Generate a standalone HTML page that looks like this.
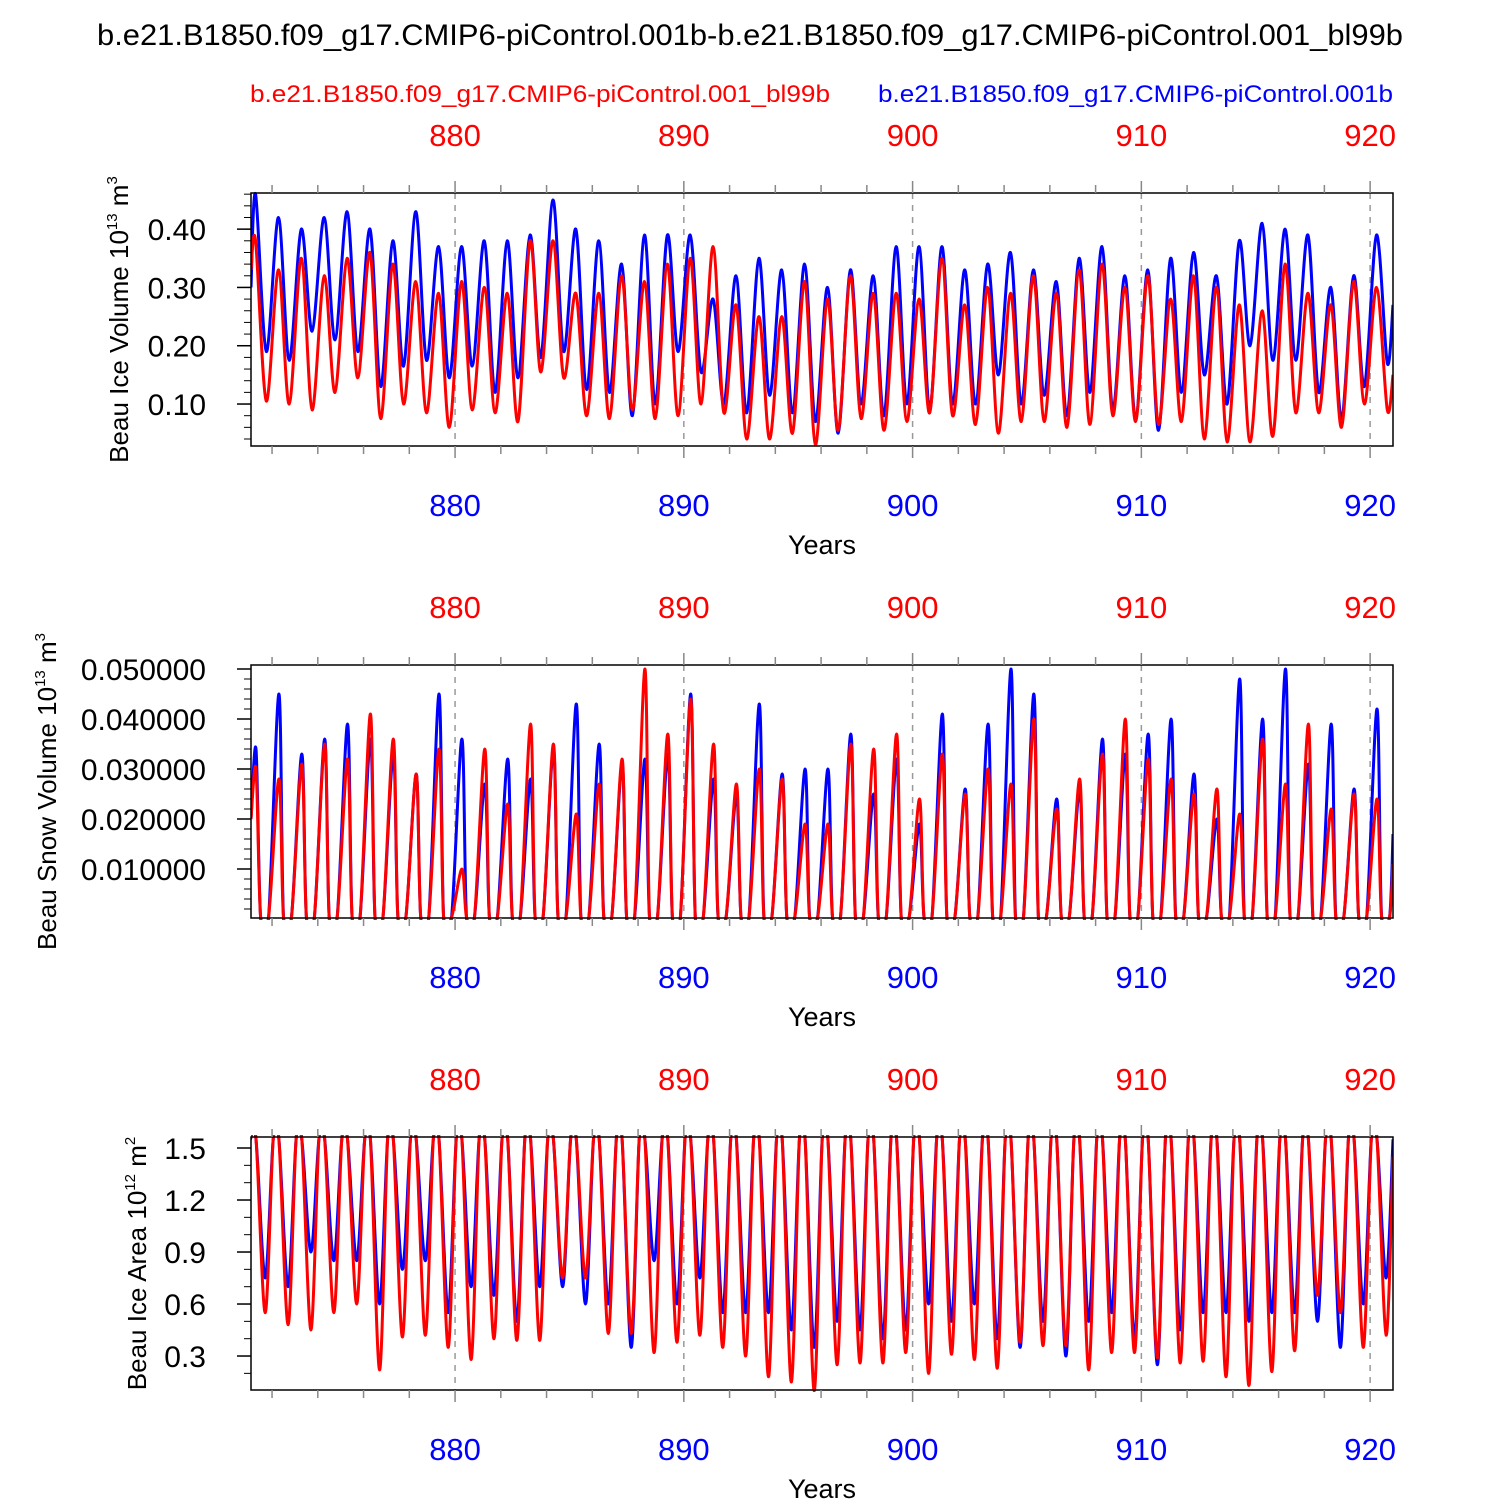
<!DOCTYPE html>
<html><head><meta charset="utf-8"><style>
html,body{margin:0;padding:0;background:#fff;}
svg text{font-family:"Liberation Sans",Arial,sans-serif;}
</style></head><body>
<svg id="chart" width="1500" height="1500" xmlns="http://www.w3.org/2000/svg">
<rect width="1500" height="1500" fill="#fff"/>
<text x="750" y="45" font-size="30" text-anchor="middle" textLength="1306" lengthAdjust="spacingAndGlyphs">b.e21.B1850.f09_g17.CMIP6-piControl.001b-b.e21.B1850.f09_g17.CMIP6-piControl.001_bl99b</text>
<text x="250" y="102" font-size="24" fill="#f00" textLength="580" lengthAdjust="spacingAndGlyphs">b.e21.B1850.f09_g17.CMIP6-piControl.001_bl99b</text>
<text x="878" y="102" font-size="24" fill="#00f" textLength="515" lengthAdjust="spacingAndGlyphs">b.e21.B1850.f09_g17.CMIP6-piControl.001b</text>
</svg>
<script>
const years=[871,872,873,874,875,876,877,878,879,880,881,882,883,884,885,886,887,888,889,890,891,892,893,894,895,896,897,898,899,900,901,902,903,904,905,906,907,908,909,910,911,912,913,914,915,916,917,918,919,920];
const xTicks=[880,890,900,910,920];
// Ice volume
const volRedPeak=[0.38,0.33,0.35,0.32,0.35,0.36,0.34,0.31,0.29,0.31,0.30,0.29,0.38,0.38,0.29,0.29,0.32,0.31,0.34,0.35,0.37,0.27,0.25,0.25,0.31,0.28,0.32,0.29,0.29,0.28,0.35,0.27,0.30,0.29,0.32,0.29,0.33,0.34,0.30,0.32,0.28,0.32,0.30,0.27,0.26,0.34,0.29,0.27,0.31,0.30];
const volRedTrough=[0.105,0.10,0.09,0.12,0.145,0.075,0.10,0.085,0.06,0.09,0.085,0.07,0.155,0.145,0.08,0.075,0.09,0.075,0.08,0.10,0.085,0.04,0.04,0.05,0.03,0.055,0.075,0.055,0.07,0.085,0.08,0.065,0.05,0.07,0.07,0.06,0.065,0.08,0.07,0.065,0.07,0.04,0.035,0.035,0.045,0.085,0.085,0.06,0.10,0.09];
const volBluePeak=[0.46,0.42,0.40,0.42,0.43,0.40,0.38,0.43,0.37,0.37,0.38,0.38,0.39,0.45,0.40,0.38,0.34,0.39,0.39,0.39,0.28,0.32,0.35,0.33,0.34,0.30,0.33,0.32,0.37,0.37,0.37,0.33,0.34,0.36,0.33,0.31,0.35,0.37,0.32,0.33,0.35,0.36,0.32,0.38,0.41,0.40,0.39,0.30,0.32,0.39];
const volBlueTrough=[0.19,0.175,0.225,0.21,0.19,0.13,0.165,0.175,0.145,0.165,0.12,0.145,0.18,0.19,0.125,0.12,0.08,0.10,0.19,0.155,0.10,0.085,0.115,0.085,0.07,0.05,0.10,0.08,0.10,0.09,0.10,0.10,0.15,0.10,0.115,0.08,0.12,0.09,0.075,0.055,0.12,0.15,0.10,0.20,0.175,0.175,0.12,0.075,0.13,0.17];
const volStart=[0.33,0.30], volEnd=[0.15,0.27];
const volTicks=[0.10,0.20,0.30,0.40], volTickLabels=["0.10","0.20","0.30","0.40"];
// Snow volume
const snowRedPeak=[0.030,0.028,0.031,0.035,0.032,0.041,0.036,0.029,0.034,0.010,0.034,0.023,0.039,0.035,0.021,0.027,0.032,0.050,0.037,0.044,0.035,0.027,0.030,0.028,0.019,0.019,0.035,0.034,0.037,0.024,0.033,0.025,0.030,0.027,0.040,0.022,0.028,0.033,0.040,0.032,0.028,0.025,0.026,0.021,0.036,0.027,0.039,0.022,0.025,0.024];
const snowBluePeak=[0.034,0.045,0.033,0.036,0.039,0.036,0.033,0.029,0.045,0.036,0.027,0.032,0.028,0.034,0.043,0.035,0.031,0.032,0.033,0.045,0.028,0.025,0.043,0.029,0.030,0.030,0.037,0.025,0.032,0.019,0.041,0.026,0.039,0.050,0.045,0.024,0.026,0.036,0.033,0.037,0.040,0.029,0.020,0.048,0.040,0.050,0.031,0.039,0.026,0.042];
const snowStart=[0.020,0.020], snowEnd=[0.011,0.017];
const snowTicks=[0.01,0.02,0.03,0.04,0.05], snowTickLabels=["0.010000","0.020000","0.030000","0.040000","0.050000"];
// Ice area
const areaRedTrough=[0.55,0.48,0.45,0.55,0.60,0.22,0.41,0.42,0.35,0.28,0.40,0.39,0.39,0.75,0.75,0.43,0.43,0.32,0.38,0.42,0.35,0.30,0.18,0.15,0.10,0.25,0.26,0.26,0.32,0.20,0.31,0.28,0.23,0.38,0.36,0.36,0.22,0.32,0.32,0.29,0.26,0.27,0.18,0.13,0.21,0.33,0.65,0.55,0.35,0.42];
const areaBlueTrough=[0.75,0.70,0.90,0.85,0.85,0.60,0.80,0.85,0.55,0.70,0.65,0.50,0.70,0.70,0.60,0.60,0.35,0.85,0.60,0.75,0.55,0.55,0.55,0.45,0.35,0.50,0.45,0.40,0.45,0.60,0.50,0.60,0.40,0.35,0.50,0.30,0.50,0.55,0.40,0.25,0.45,0.55,0.55,0.50,0.55,0.55,0.50,0.35,0.60,0.75];
const areaPeak=1.55;
const areaStart=[1.55,1.55], areaEnd=[1.45,1.55];
const areaTicks=[0.3,0.6,0.9,1.2,1.5], areaTickLabels=["0.3","0.6","0.9","1.2","1.5"];

const svg=document.getElementById('chart');
const NS='http://www.w3.org/2000/svg';
function mk(tag,attrs,parent){const e=document.createElementNS(NS,tag);for(const k in attrs)e.setAttribute(k,attrs[k]);(parent||svg).appendChild(e);return e;}
const X0=251,X1=1393,XMIN=871.08,XMAX=921.0;
function xs(v){return X0+(v-XMIN)/(XMAX-XMIN)*(X1-X0);}
function smoothPath(P){
  let d='M'+P[0][0].toFixed(1)+','+P[0][1].toFixed(1);
  for(let i=0;i<P.length-1;i++){
    const p0=P[i-1]||P[i],p1=P[i],p2=P[i+1],p3=P[i+2]||P[i+1];
    const t=0.16;
    const c1=[p1[0]+(p2[0]-p0[0])*t,p1[1]+(p2[1]-p0[1])*t];
    const c2=[p2[0]-(p3[0]-p1[0])*t,p2[1]-(p3[1]-p1[1])*t];
    d+=`C${c1[0].toFixed(1)},${c1[1].toFixed(1)} ${c2[0].toFixed(1)},${c2[1].toFixed(1)} ${p2[0].toFixed(1)},${p2[1].toFixed(1)}`;
  }
  return d;
}
let clipId=0;
function panel(name,top,bottom,ymin,ymax,ticks,labels,minorStep,ylabelMain,ylabelExp,unit,ylabelX,series){
  const ys=v=>bottom-(v-ymin)/(ymax-ymin)*(bottom-top);
  const g=mk('g',{});
  
  
  const cid='clip'+(clipId++);
  const cp=mk('clipPath',{id:cid},g);
  mk('rect',{x:X0,y:top-2,width:X1-X0,height:bottom-top+4},cp);
  xTicks.forEach(t=>{const l=mk('line',{x1:xs(t),x2:xs(t),y1:top,y2:bottom,stroke:'#999','stroke-width':1.5,'stroke-dasharray':'6,6'},g);
    });
  series.forEach(s=>{
    const pts=s.pts.map(q=>[xs(q[0]),ys(q[1])]);
    const p=mk('path',{d:smoothPath(pts),fill:'none',stroke:s.color,'stroke-width':3,'stroke-linejoin':'round','clip-path':`url(#${cid})`},g);
    
    
  });
  const fr=mk('rect',{x:X0,y:top,width:X1-X0,height:bottom-top,fill:'none',stroke:'#000','stroke-width':1.5},g);
  
  for(let yr=872;yr<=920;yr+=2){
    const major=yr%10===0,len=major?12:8,x=xs(yr);
    mk('line',{x1:x,x2:x,y1:top,y2:top-len,stroke:'#888','stroke-width':1.5},g);
    mk('line',{x1:x,x2:x,y1:bottom,y2:bottom+len,stroke:'#888','stroke-width':1.5},g);
  }
  xTicks.forEach(t=>{
    const a=mk('text',{x:xs(t),y:top-47,'font-size':31,fill:'#f00','text-anchor':'middle'},g);a.textContent=t;
    
    const b=mk('text',{x:xs(t),y:bottom+70,'font-size':31,fill:'#00f','text-anchor':'middle'},g);b.textContent=t;
    
  });
  const yt=mk('text',{x:(X0+X1)/2,y:bottom+108,'font-size':27,'text-anchor':'middle'},g);yt.textContent='Years';
  
  for(let k=Math.ceil(ymin/minorStep-1e-6);k*minorStep<=ymax;k++){
    const y=ys(k*minorStep);mk('line',{x1:X0,x2:X0-7,y1:y,y2:y,stroke:'#000','stroke-width':1},g);
  }
  ticks.forEach((t,i)=>{const y=ys(t);
    mk('line',{x1:X0,x2:X0-14,y1:y,y2:y,stroke:'#000','stroke-width':1.5},g);
    const tx=mk('text',{x:206,y:y+11,'font-size':30,'text-anchor':'end'},g);tx.textContent=labels[i];
    
  });
  const cy=(top+bottom)/2;
  const yl=mk('text',{transform:`translate(${ylabelX},${cy}) rotate(-90)`,'font-size':26,'text-anchor':'middle'},g);
  
  yl.innerHTML=`${ylabelMain} 10<tspan font-size="15" dy="-11">${ylabelExp}</tspan><tspan dy="11"> m</tspan><tspan font-size="15" dy="-11">${unit}</tspan>`;
}

function buildVol(peak,trough,start,end){const p=[[871.08,start]];years.forEach((y,i)=>{p.push([y+0.28,peak[i]]);p.push([y+0.75,trough[i]]);});p.push([921.0,end]);return p;}
function buildSnow(peak,start,end){const p=[[871.08,start]];years.forEach((y,i)=>{p.push([y+0.3,peak[i]]);p.push([y+0.5,0.0004]);p.push([y+0.85,0.0004]);});p.push([921.0,end]);return p;}
function buildArea(trough,start,end){const p=[[871.08,start]];years.forEach((y,i)=>{p.push([y+0.05,areaPeak]);p.push([y+0.3,areaPeak]);p.push([y+0.7,trough[i]]);});p.push([921.0,end]);return p;}

panel('ice-volume',193,446,0.028,0.462,volTicks,volTickLabels,0.02,'Beau Ice Volume','13','3',128,[
 {name:'ice-volume-blue-line',color:'#00f',pts:buildVol(volBluePeak,volBlueTrough,volStart[1],volEnd[1])},
 {name:'ice-volume-red-line',color:'#f00',pts:buildVol(volRedPeak,volRedTrough,volStart[0],volEnd[0])}]);
panel('snow-volume',665,918,0.0002,0.0508,snowTicks,snowTickLabels,0.002,'Beau Snow Volume','13','3',56,[
 {name:'snow-volume-blue-line',color:'#00f',pts:buildSnow(snowBluePeak,snowStart[1],snowEnd[1])},
 {name:'snow-volume-red-line',color:'#f00',pts:buildSnow(snowRedPeak,snowStart[0],snowEnd[0])}]);
panel('ice-area',1137,1390,0.104,1.5635,areaTicks,areaTickLabels,0.1,'Beau Ice Area','12','2',146,[
 {name:'ice-area-blue-line',color:'#00f',pts:buildArea(areaBlueTrough,areaStart[1],areaEnd[1])},
 {name:'ice-area-red-line',color:'#f00',pts:buildArea(areaRedTrough,areaStart[0],areaEnd[0])}]);
</script>
</body></html>
